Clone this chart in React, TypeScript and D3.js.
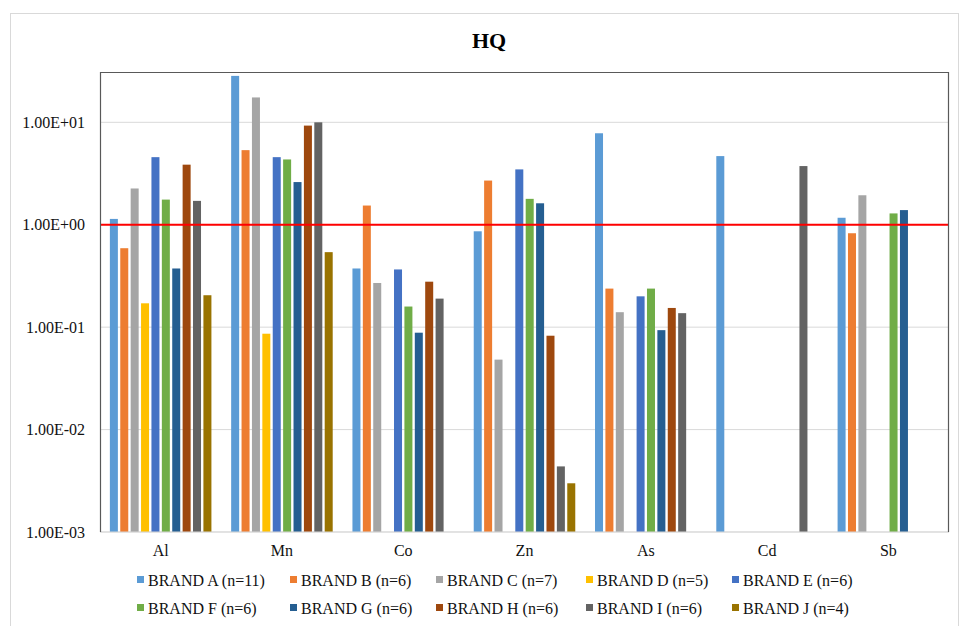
import React from 'react'
import * as d3 from 'd3'

// HQ per element and brand, log scale; null = no bar
const elements = ['Al', 'Mn', 'Co', 'Zn', 'As', 'Cd', 'Sb']
const brands = [
  'BRAND A (n=11)', 'BRAND B (n=6)', 'BRAND C (n=7)', 'BRAND D (n=5)', 'BRAND E (n=6)',
  'BRAND F (n=6)', 'BRAND G (n=6)', 'BRAND H (n=6)', 'BRAND I (n=6)', 'BRAND J (n=4)'
]
const colors = ['#5B9BD5', '#ED7D31', '#A5A5A5', '#FFC000', '#4472C4', '#70AD47', '#255E91', '#9E480E', '#636363', '#997300']

const brandA = [1.14, 28.4, 0.374, 0.863, 7.82, 4.68, 1.17]
const brandB = [0.59, 5.35, 1.54, 2.70, 0.238, null, 0.826]
const brandC = [2.26, 17.5, 0.27, 0.0482, 0.14, null, 1.94]
const brandD = [0.171, 0.0863, null, null, null, null, null]
const brandE = [4.57, 4.57, 0.366, 3.47, 0.2, null, null]
const brandF = [1.76, 4.34, 0.159, 1.79, 0.238, null, 1.29]
const brandG = [0.374, 2.61, 0.0883, 1.62, 0.0935, null, 1.39]
const brandH = [3.86, 9.29, 0.278, 0.0825, 0.154, null, null]
const brandI = [1.71, 10.0, 0.19, 0.00437, 0.137, 3.74, null]
const brandJ = [0.205, 0.54, null, 0.00299, null, null, null]
const series = [brandA, brandB, brandC, brandD, brandE, brandF, brandG, brandH, brandI, brandJ]

const yTicks = [1e-3, 1e-2, 1e-1, 1, 10]
const threshold = 1

const W = 968
const H = 626
const margin = { top: 72, right: 19, bottom: 94, left: 100 }
const font = '"Liberation Serif", "Times New Roman", serif'

export default function App () {
  const plotW = W - margin.left - margin.right
  const plotH = H - margin.top - margin.bottom

  const x0 = d3.scaleBand().domain(elements).range([0, plotW]).padding(0)
  const x1 = d3.scaleBand().domain(brands).range([0, x0.bandwidth()])
    .paddingInner(0.23).paddingOuter(0.95)
  const y = d3.scaleLog().domain([1e-3, 31]).range([plotH, 0])

  const fmt = (v: number) => v.toExponential(2).toUpperCase().replace(/E([+-])(\d)$/, 'E$10$2')

  const legendCols = [137, 290, 436, 586, 732]
  const legendRows = [580, 608]

  return (
    <svg width={W} height={H} style={{ position: 'absolute', left: 0, top: 0, background: '#fff' }}>
      <rect x={10.5} y={13.5} width={948} height={620} fill='#fff' stroke='#d9d9d9' />
      <text x={489} y={48} textAnchor='middle' fontFamily={font} fontWeight='bold' fontSize={22}>HQ</text>

      <g transform={`translate(${margin.left},${margin.top})`}>
        {/* gridlines */}
        {yTicks.map(t => (
          <line key={t} x1={0} x2={plotW} y1={y(t)} y2={y(t)} stroke='#d9d9d9' strokeWidth={1} />
        ))}

        {/* bars */}
        {series.map((vals, bi) => (
          <g key={brands[bi]} fill={colors[bi]}>
            {vals.map((v, ei) => v == null ? null : (
              <rect
                key={ei}
                x={(x0(elements[ei]) || 0) + (x1(brands[bi]) || 0)}
                y={y(v)}
                width={x1.bandwidth()}
                height={plotH - y(v)}
              />
            ))}
          </g>
        ))}

        {/* reference line HQ = 1 */}
        <line x1={0} x2={plotW} y1={y(threshold)} y2={y(threshold)} stroke='#ff0000' strokeWidth={2} />

        {/* plot frame */}
        <line x1={0} x2={plotW} y1={plotH} y2={plotH} stroke='#d9d9d9' />
        <path d={`M0.5,${plotH}V0.5H${plotW - 0.5}V${plotH}`} fill='none' stroke='#595959' strokeWidth={1.2} />

        {/* y tick labels */}
        {yTicks.map(t => (
          <text key={t} x={-15} y={y(t)} dy='0.35em' textAnchor='end' fontFamily={font} fontSize={16} fill='#111'>
            {fmt(t)}
          </text>
        ))}

        {/* x labels */}
        {elements.map(e => (
          <text key={e} x={(x0(e) || 0) + x0.bandwidth() / 2} y={plotH + 18} dy='0.35em' textAnchor='middle'
            fontFamily={font} fontSize={16} fill='#111'>
            {e}
          </text>
        ))}
      </g>

      {/* legend */}
      {brands.map((b, i) => {
        const lx = legendCols[i % 5]
        const ly = legendRows[Math.floor(i / 5)]
        return (
          <g key={b} transform={`translate(${lx},${ly})`}>
            <rect x={0} y={-4} width={7} height={7} fill={colors[i]} />
            <text x={11} y={0} dy='0.35em' fontFamily={font} fontSize={16} fill='#111'>{b}</text>
          </g>
        )
      })}
    </svg>
  )
}
